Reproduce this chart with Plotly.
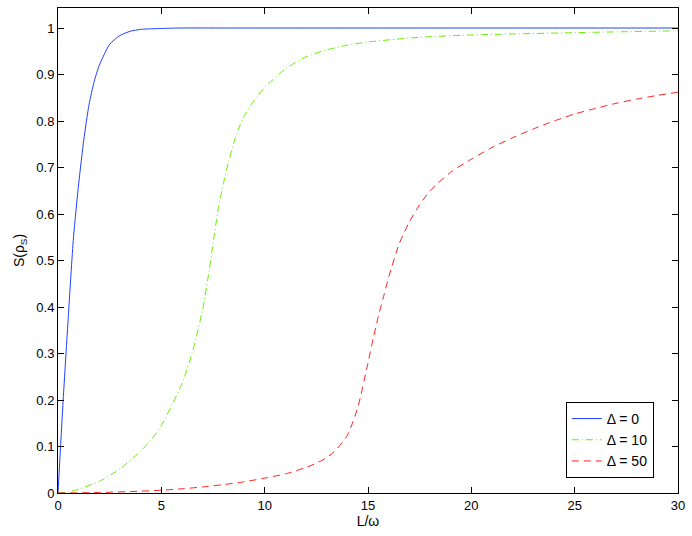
import plotly.graph_objects as go

# Delta = 0
x_d0 = [0, 0.25, 0.5, 0.75, 1, 1.25, 1.5, 1.75, 2, 2.5, 3, 3.5, 4, 5, 6, 8, 10, 15, 20, 25, 30]
y_d0 = [0, 0.2, 0.38, 0.55, 0.665, 0.76, 0.835, 0.885, 0.92, 0.965, 0.984, 0.993, 0.997, 0.999,
        1, 1, 1, 1, 1, 1, 1]

# Delta = 10
x_d10 = [0, 0.5, 1, 2, 3, 4, 4.5, 5, 5.5, 6, 6.5, 7, 7.25, 7.5, 7.75, 8, 8.25, 8.5, 8.75, 9,
         9.5, 10, 11, 12, 13, 14, 15, 17.5, 20, 25, 30]
y_d10 = [0, 0.002, 0.008, 0.025, 0.052, 0.09, 0.114, 0.145, 0.188, 0.235, 0.302, 0.395, 0.46,
         0.535, 0.61, 0.665, 0.712, 0.752, 0.785, 0.81, 0.845, 0.872, 0.912, 0.938, 0.953, 0.963,
         0.97, 0.98, 0.985, 0.99, 0.994]

# Delta = 50
x_d50 = [0, 2, 4, 5, 6, 7, 8, 9, 10, 11, 12, 12.5, 13, 13.5, 14, 14.5, 15, 15.25, 15.5, 15.75,
         16, 16.5, 17, 17.5, 18, 19, 20, 21, 22, 23, 24, 25, 26, 27, 28, 29, 30]
y_d50 = [0, 0.001, 0.004, 0.006, 0.009, 0.013, 0.018, 0.024, 0.032, 0.041, 0.055, 0.064, 0.076,
         0.095, 0.124, 0.183, 0.28, 0.332, 0.38, 0.422, 0.464, 0.535, 0.583, 0.62, 0.65, 0.69,
         0.718, 0.743, 0.764, 0.783, 0.8, 0.815, 0.827, 0.838, 0.847, 0.855, 0.862]

x_ticks = [0, 5, 10, 15, 20, 25, 30]
y_ticks = [0, 0.1, 0.2, 0.3, 0.4, 0.5, 0.6, 0.7, 0.8, 0.9, 1]
y_tick_labels = ["0", "0.1", "0.2", "0.3", "0.4", "0.5", "0.6", "0.7", "0.8", "0.9", "1"]

font = "Liberation Sans, Arial, sans-serif"

fig = go.Figure()
fig.add_trace(go.Scatter(x=x_d0, y=y_d0, mode="lines", name="Δ = 0",
                         line=dict(color="#2040ff", width=1, shape="spline", smoothing=0.6)))
fig.add_trace(go.Scatter(x=x_d10, y=y_d10, mode="lines", name="Δ = 10",
                         line=dict(color="#66ee00", width=1, dash="7px,3px,1px,3px",
                                   shape="spline", smoothing=0.6)))
fig.add_trace(go.Scatter(x=x_d50, y=y_d50, mode="lines", name="Δ = 50",
                         line=dict(color="#ff2020", width=1, dash="7px,5px",
                                   shape="spline", smoothing=0.6)))

axis_common = dict(
    showline=True, linecolor="black", linewidth=1, mirror="ticks",
    ticks="inside", ticklen=6, tickcolor="black",
    showgrid=False, zeroline=False,
    tickfont=dict(family=font, size=13, color="black"),
)

fig.update_xaxes(range=[0, 30], tickvals=x_ticks,
                 title=dict(text="L/ω", font=dict(family=font, size=14, color="black"), standoff=4),
                 **axis_common)
fig.update_yaxes(range=[0, 1.043], tickvals=y_ticks, ticktext=y_tick_labels,
                 title=dict(text="S(ρ<sub>S</sub>)", font=dict(family=font, size=14, color="black"),
                            standoff=8),
                 **axis_common)

fig.update_layout(
    width=692, height=536,
    margin=dict(l=58, r=12, t=7, b=43),
    paper_bgcolor="white", plot_bgcolor="white",
    legend=dict(x=0.961, y=0.031, xanchor="right", yanchor="bottom",
                bgcolor="white", bordercolor="black", borderwidth=1,
                font=dict(family=font, size=14, color="black"),
                tracegroupgap=0),
)

fig.write_html("out.html", config={"displayModeBar": False},
               post_script="document.body.style.margin='0';")
